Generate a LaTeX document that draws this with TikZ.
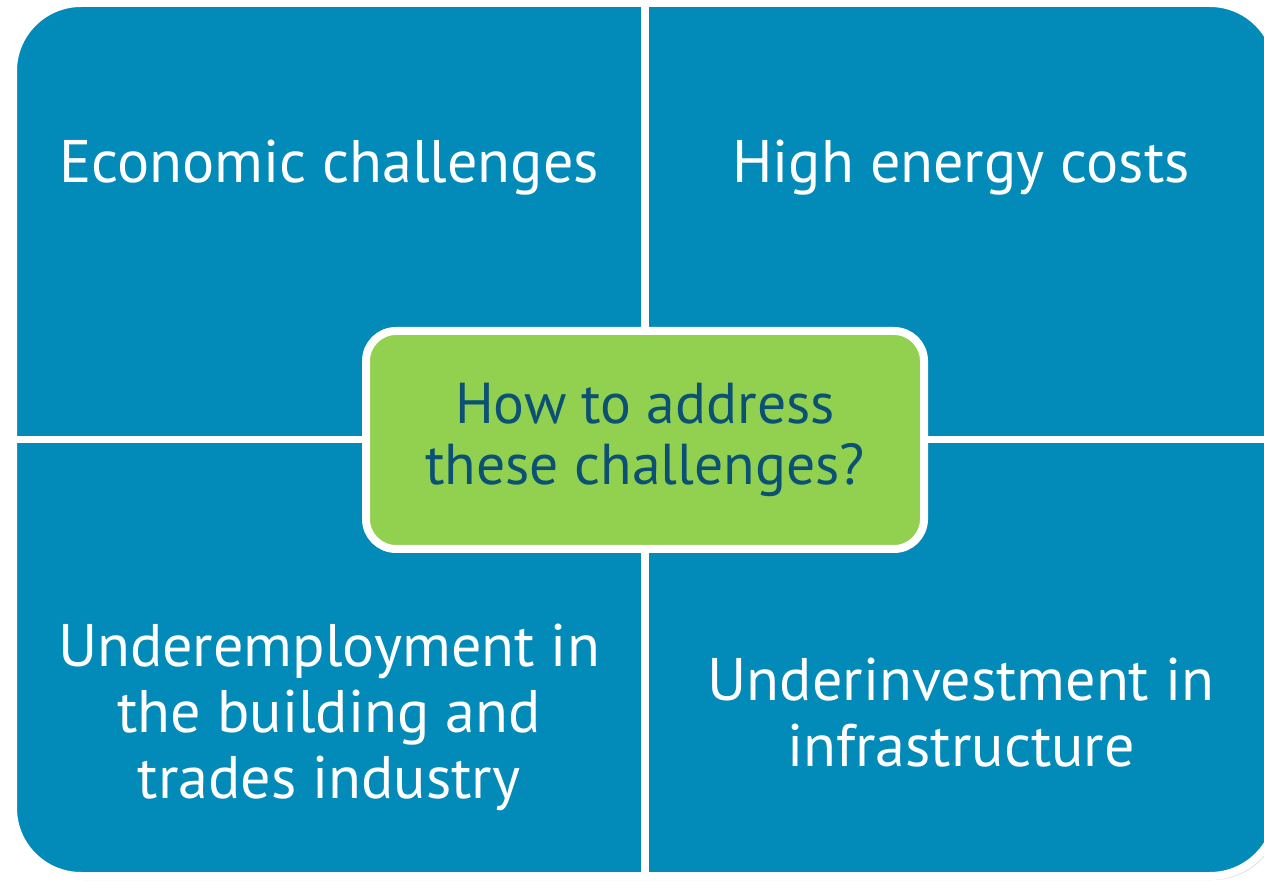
\documentclass[tikz,border=0pt]{standalone}
\usepackage{fontspec}
\setmainfont{PT Sans}
\usetikzlibrary{positioning,shadows}
\definecolor{quadblue}{HTML}{028AB8}
\definecolor{askgreen}{HTML}{92D050}
\definecolor{asktext}{HTML}{0B5173}

\begin{document}
\begin{tikzpicture}[
    quadtext/.style={text=white, align=center, font=\fontsize{17.1}{18.8}\selectfont},
    askbox/.style={draw=white, line width=0.08cm, fill=askgreen, rounded corners=0.3cm,
      minimum width=5.58cm, minimum height=2.18cm, text=asktext, align=center,
      font=\fontsize{16.4}{17.6}\selectfont,
      drop shadow={opacity=0.3, shadow xshift=0.03cm, shadow yshift=-0.04cm}}
  ]
    \useasboundingbox (0,0) rectangle (12.64,8.80);

    % Draw the four quarters as one rounded block
    \draw[white, line width=0.08cm, fill=quadblue, rounded corners=0.68cm,
      drop shadow={opacity=0.25, shadow xshift=0.03cm, shadow yshift=-0.04cm}]
      (0.13,0.04) rectangle (12.78,8.77);

    % Draw the gaps between the quarters
    \fill[white] (6.41,0.0) rectangle (6.49,8.80);
    \fill[white] (0.09,4.365) rectangle (12.82,4.435);

    % Quarter labels
    \node[quadtext] (econ) at (3.29,7.12) {Economic challenges};
    \node[quadtext] (energy) at (9.61,7.12) {High energy costs};
    \node[quadtext] (trades) at (3.29,1.63) {Underemployment in\\the building and\\trades industry};
    \node[quadtext] (invest) at (9.61,1.67) {Underinvestment in\\infrastructure};

    % Question in the middle
    \node[askbox] (ask) at (6.45,4.40) {How to address\\these challenges?};

\end{tikzpicture}
\end{document}
